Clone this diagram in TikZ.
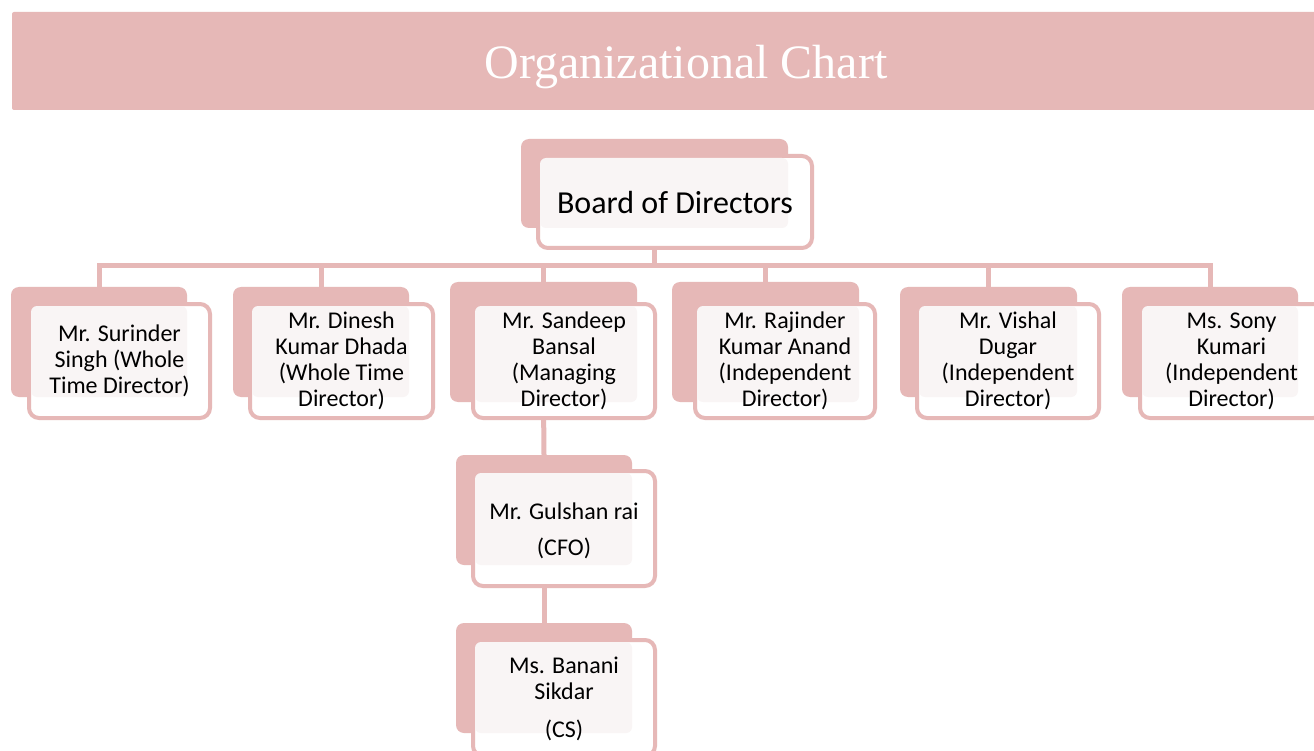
\documentclass[tikz,border=0pt]{standalone}
\usepackage{fontspec}
\setmainfont{Carlito}
\newfontfamily\titlefont{Liberation Serif}
\usetikzlibrary{backgrounds}
\definecolor{pk}{RGB}{230,184,183}
\definecolor{lt}{RGB}{249,245,245}
\tikzset{
  backbox/.style={fill=pk,draw=none,rounded corners=8pt,inner sep=0pt,outer sep=0pt},
  frontbox/.style={fill=white,draw=pk,line width=4pt,rounded corners=10pt,inner sep=0pt,outer sep=0pt},
  txt/.style={align=center,font=\fontsize{24}{26}\selectfont,inner sep=0pt,text=black},
  conn/.style={draw=pk,line width=5pt,line join=miter},
}
\newcommand\orgbox[9]{%
  \pgfmathsetmacro\obw{#4-#2}\pgfmathsetmacro\obh{#5-#3}%
  \pgfmathsetmacro\ofw{#8-#6-4}\pgfmathsetmacro\ofh{#9-#7-4}%
  \node[backbox,minimum width=\obw pt,minimum height=\obh pt] (#1b) at ({(#2+#4)/2},{(#3+#5)/2}) {};
  \node[frontbox,minimum width=\ofw pt,minimum height=\ofh pt] (#1f) at ({(#6+#8)/2},{(#7+#9)/2}) {};
  \fill[lt,rounded corners=6pt] ({#6+4},{#7+4}) rectangle (#4,#5);
}
\begin{document}
\begin{tikzpicture}[x=1pt,y=-1pt]
\useasboundingbox (0,0) rectangle (1314,751);
\begin{pgfonlayer}{background}
\fill[white] (0,0) rectangle (1314,751);
\end{pgfonlayer}
% banner
\fill[pk,rounded corners=2pt] (12,12) rectangle (1330,110);
\node[font=\titlefont\fontsize{48}{52}\selectfont,text=white,anchor=base,inner sep=0pt] (title) at (686,79) {Organizational Chart};
% boxes
\orgbox{bd}{521}{139}{788}{228}{536}{154}{814}{250}
\node[txt,font=\fontsize{32}{36}\selectfont] (board) at (675,203) {Board of Directors};
\orgbox{n1}{11}{287}{187}{397}{27}{302}{212}{420}
\node[txt] (surinder) at (n1f.center) {Mr. Surinder\\Singh (Whole\\Time Director)};
\orgbox{n2}{233}{287}{409}{397}{248}{302}{435}{420}
\node[txt] (dinesh) at (n2f.center) {Mr. Dinesh\\Kumar Dhada\\(Whole Time\\Director)};
\orgbox{n3}{450}{282}{637}{402}{471}{302}{657}{420}
\node[txt] (sandeep) at (n3f.center) {Mr. Sandeep\\Bansal\\(Managing\\Director)};
\orgbox{n4}{672}{282}{859}{402}{693}{302}{877}{420}
\node[txt] (rajinder) at (n4f.center) {Mr. Rajinder\\Kumar Anand\\(Independent\\Director)};
\orgbox{n5}{900}{287}{1077}{397}{915}{302}{1101}{420}
\node[txt] (vishal) at (n5f.center) {Mr. Vishal\\Dugar\\(Independent\\Director)};
\orgbox{n6}{1122}{287}{1298}{397}{1138}{302}{1325}{420}
\node[txt] (sony) at (n6f.center) {Ms. Sony\\Kumari\\(Independent\\Director)};
\orgbox{n7}{456}{455}{632}{565}{471}{469}{657}{588}
\node[txt] (gulshan) at (564,531) {Mr. Gulshan rai\\[10pt](CFO)};
\orgbox{n8}{456}{623}{632}{733}{471}{638}{657}{758}
\node[txt] (banani) at (564,699) {Ms. Banani\\Sikdar\\[12pt](CS)};
% connectors
\begin{pgfonlayer}{background}
\coordinate (bar) at (655,266);
\draw[conn] (n1b.north) -- (n1b.north |- bar) -- (n6b.north |- bar) -- (n6b.north);
\draw[conn] (bdb.south) -- (bdb.south |- bar);
\draw[conn] (n2b.north |- bar) -- (n2b.north);
\draw[conn] (n3b.north |- bar) -- (n3b.north);
\draw[conn] (n4b.north |- bar) -- (n4b.north);
\draw[conn] (n5b.north |- bar) -- (n5b.north);
\draw[conn] (n3b.south) -- (n7b.north);
\draw[conn] (n7b.south) -- (n8b.north);
\end{pgfonlayer}
\end{tikzpicture}
\end{document}
